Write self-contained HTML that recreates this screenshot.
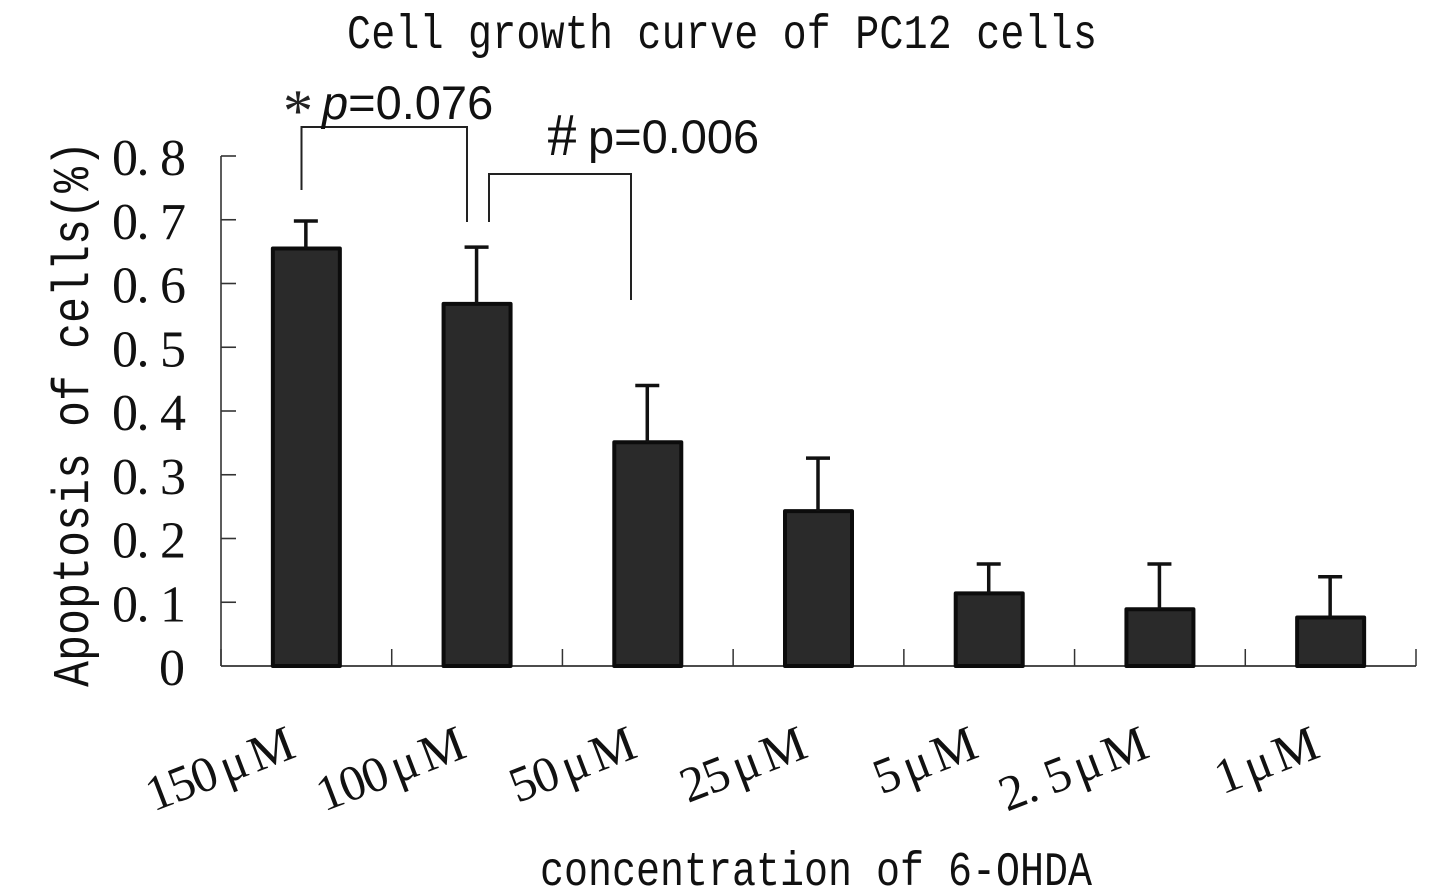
<!DOCTYPE html>
<html lang="en">
<head>
<meta charset="utf-8">
<title>Cell growth curve of PC12 cells</title>
<style>
html,body{margin:0;padding:0;background:#fff;}
svg{display:block;}
.mono{font-family:"Liberation Serif","Noto Serif CJK SC",serif;fill:#111;text-anchor:middle;white-space:pre;}
.slab{font-family:"Liberation Mono",monospace;fill:#111;text-anchor:middle;white-space:pre;}
.anno{font-family:"Liberation Sans",sans-serif;fill:#111;font-size:47px;}
</style>
</head>
<body>
<svg id="chart" xmlns="http://www.w3.org/2000/svg" width="1429" height="895" viewBox="0 0 1429 895">
  <rect x="0" y="0" width="1429" height="895" fill="#fff"/>
  <g transform="translate(0,48) scale(1,1.2)">
    <text class="slab" data-mono="1" data-x="359" data-y="0" data-pitch="24.2" font-size="40">Cell growth curve of PC12 cells</text>
  </g>
  <g id="axes"></g>
  <g id="bars"></g>
  <g id="errors"></g>
  <g id="ylabels"></g>
  <g id="xlabels"></g>
  <g transform="translate(88,687) rotate(-90) scale(1,1.2)">
    <text class="slab" data-mono="1" data-x="13" data-y="0" data-pitch="26" font-size="43">Apoptosis of cells(%)</text>
  </g>
  <g transform="translate(0,885) scale(1,1.2)">
    <text class="slab" data-mono="1" data-x="552" data-y="0" data-pitch="24" font-size="40">concentration of 6-OHDA</text>
  </g>
  <path d="M301.5 190V127H467V222" fill="none" stroke="#222" stroke-width="2"/>
  <path d="M489 222V174H631V300" fill="none" stroke="#222" stroke-width="2"/>
  <text x="283" y="131" font-family="Liberation Serif, serif" font-size="60" fill="#222">*</text>
  <text class="anno" x="322" y="119"><tspan font-style="italic">p</tspan>=0.076</text>
  <text x="547" y="155" font-family="Liberation Serif, serif" font-size="60" fill="#111">#</text>
  <text class="anno" x="588" y="153">p=0.006</text>
</svg>
<script>
const categories = ["150\u03bcM", "100\u03bcM", "50\u03bcM", "25\u03bcM", "5\u03bcM", "2.5\u03bcM", "1\u03bcM"];
const means = [0.655, 0.568, 0.351, 0.243, 0.114, 0.089, 0.076];
const errorTops = [0.698, 0.657, 0.44, 0.326, 0.16, 0.16, 0.14];
const yTickValues = [0, 0.1, 0.2, 0.3, 0.4, 0.5, 0.6, 0.7, 0.8];

const NS = 'http://www.w3.org/2000/svg';
const plotLeft = 221, plotRight = 1416, plotBottom = 666, plotTop = 156, yMax = 0.8;
const barWidth = 70;
function yScale(v) { return plotBottom - (v / yMax) * (plotBottom - plotTop); }
function bandWidth() { return (plotRight - plotLeft) / categories.length; }
function xCenter(i) { return plotLeft + bandWidth() * (i + 0.5); }
function mk(parent, tag, attrs) {
  const el = document.createElementNS(NS, tag);
  for (const k in attrs) el.setAttribute(k, attrs[k]);
  parent.appendChild(el);
  return el;
}
/* lays out a string on a fixed character pitch (half-width / full-width) */
function monoX(str, start, pitch) {
  const xs = [];
  let cur = start;
  for (const ch of str) {
    if (ch === '\u03bc') { xs.push(cur + pitch * 0.3); cur += pitch * 2; }
    else if (ch === '.') { xs.push(cur - pitch * 0.25); cur += pitch; }
    else { xs.push(cur); cur += pitch; }
  }
  return { xs: xs, end: cur };
}

document.querySelectorAll('[data-mono]').forEach(function (t) {
  const r = monoX(t.textContent, +t.dataset.x, +t.dataset.pitch);
  t.setAttribute('x', r.xs.join(' '));
  t.setAttribute('y', t.dataset.y);
});

const axes = document.getElementById('axes');
const yAxisLine = mk(axes, 'line', { x1: plotLeft, x2: plotLeft, y1: yScale(yMax), y2: plotBottom, stroke: '#333', 'stroke-width': 1.6 });


const xAxisLine = mk(axes, 'line', { x1: plotLeft, x2: plotRight, y1: plotBottom, y2: plotBottom, stroke: '#333', 'stroke-width': 1.8 });



const ylabels = document.getElementById('ylabels');
yTickValues.forEach(function (v) {
  const y = yScale(v);
  if (v > 0) {
    const tick = mk(axes, 'line', { x1: plotLeft, x2: plotLeft + 15, y1: y, y2: y, stroke: '#333', 'stroke-width': 1.6 });
    
    
  }
  const str = String(v);
  const label = mk(ylabels, 'text', { class: 'mono', 'font-size': 52, y: y + 19 });
  
  
  label.textContent = str;
  label.setAttribute('x', monoX(str, str.length > 1 ? 125 : 172, 24).xs.join(' '));
});

for (let i = 0; i <= categories.length; i++) {
  const x = plotLeft + bandWidth() * i;
  const tick = mk(axes, 'line', { x1: x, x2: x, y1: plotBottom - 17, y2: plotBottom, stroke: '#333', 'stroke-width': 1.5 });
  
  
}

const bars = document.getElementById('bars');
const errors = document.getElementById('errors');
const xlabels = document.getElementById('xlabels');
categories.forEach(function (c, i) {
  const cx = xCenter(i);
  const top = yScale(means[i]);
  const errTop = yScale(errorTops[i]);

  const stem = mk(errors, 'line', { x1: cx - 0.5, x2: cx - 0.5, y1: top, y2: errTop, stroke: '#111', 'stroke-width': 3.5 });
  
  
  const cap = mk(errors, 'line', { x1: cx - 12.5, x2: cx + 11.5, y1: errTop, y2: errTop, stroke: '#111', 'stroke-width': 3.5 });
  
  

  const bar = mk(bars, 'rect', { x: cx - barWidth / 2 + 1.5, y: top, width: barWidth - 3, height: plotBottom - top, fill: '#2a2a2a', stroke: '#0c0c0c', 'stroke-width': 4, 'stroke-linejoin': 'round' });
  
  

  /* rotated category label, right end anchored near the band centre */
  const pitch = 24;
  const laid = monoX(c, 0, pitch);
  const offset = laid.end;
  const label = mk(xlabels, 'text', { class: 'mono', 'font-size': 50, y: 0, transform: 'translate(' + (cx - 18) + ',760) rotate(-21)' });
  
  
  label.textContent = c;
  label.setAttribute('x', laid.xs.map(function (x) { return x - offset + 12; }).join(' '));
});
</script>
</body>
</html>
